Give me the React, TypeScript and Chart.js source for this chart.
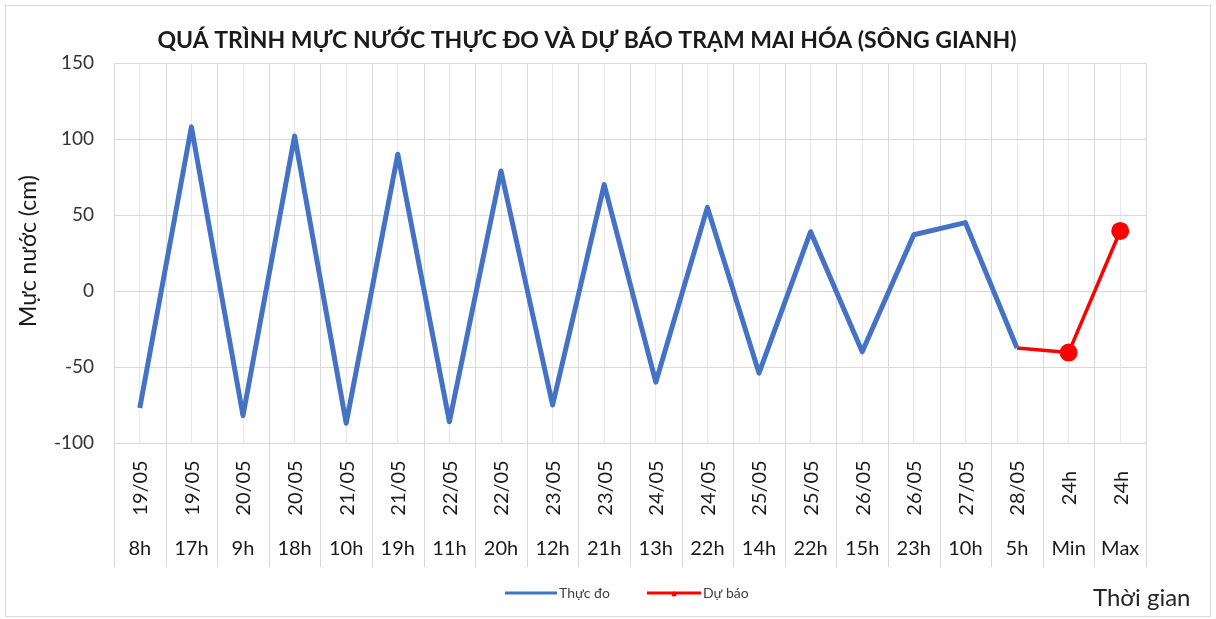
import React, { useEffect, useRef } from "react";
import { Chart, registerables } from "chart.js";

Chart.register(...registerables);

const dates = ["19/05","19/05","20/05","20/05","21/05","21/05","22/05","22/05","23/05","23/05","24/05","24/05","25/05","25/05","26/05","26/05","27/05","28/05","24h","24h"];
const hours = ["8h","17h","9h","18h","10h","19h","11h","20h","12h","21h","13h","22h","14h","22h","15h","23h","10h","5h","Min","Max"];
const observed = [-77,108,-82,102,-87,90,-86,79,-75,70,-60,55,-54,39,-40,37,45,-37.5,null,null];
const forecast = [null,null,null,null,null,null,null,null,null,null,null,null,null,null,null,null,null,-37.5,-40.5,39.5];
const yTicks = [150,100,50,0,-50,-100];

const TITLE = "QUÁ TRÌNH MỰC NƯỚC THỰC ĐO VÀ DỰ BÁO TRẠM MAI HÓA (SÔNG GIANH)";
const FONT = "Lato";

const decor = {
  id: "decor",
  beforeDatasetsDraw(chart: any) {
    const { ctx, chartArea } = chart;
    const xs = chart.scales.x;
    const n = dates.length;
    ctx.save();
    ctx.strokeStyle = "#d9d9d9";
    ctx.lineWidth = 1;
    for (let i = 0; i <= n; i++) {
      const x = Math.round(xs.getPixelForValue(i - 0.5)) + 0.5;
      ctx.beginPath();
      ctx.moveTo(x, chartArea.top);
      ctx.lineTo(x, 567);
      ctx.stroke();
    }
    ctx.restore();
  },
  afterDraw(chart: any) {
    const { ctx, chartArea } = chart;
    const xs = chart.scales.x;
    ctx.save();
    // outer border
    ctx.strokeStyle = "#d9d9d9";
    ctx.lineWidth = 1;
    ctx.strokeRect(5.5, 5.5, 1205, 611);
    // title
    ctx.fillStyle = "#1a1a1a";
    ctx.font = `bold 23px ${FONT}`;
    ctx.textAlign = "center";
    ctx.textBaseline = "middle";
    ctx.fillText(TITLE, 587, 41);
    // category labels
    ctx.fillStyle = "#1a1a1a";
    for (let i = 0; i < dates.length; i++) {
      const x = xs.getPixelForValue(i);
      ctx.save();
      ctx.translate(x + 1, 488);
      ctx.rotate(-Math.PI / 2);
      ctx.font = `20px ${FONT}`;
      ctx.textAlign = "center";
      ctx.textBaseline = "middle";
      ctx.fillText(dates[i], 0, 0);
      ctx.restore();
      ctx.font = `20px ${FONT}`;
      ctx.textAlign = "center";
      ctx.textBaseline = "middle";
      ctx.fillText(hours[i], x, 549);
    }
    // y axis title
    ctx.save();
    ctx.translate(29, 251);
    ctx.rotate(-Math.PI / 2);
    ctx.font = `23px ${FONT}`;
    ctx.textAlign = "center";
    ctx.textBaseline = "middle";
    ctx.fillStyle = "#1a1a1a";
    ctx.fillText("Mực nước (cm)", 0, 0);
    ctx.restore();
    // x axis title
    ctx.font = `24px ${FONT}`;
    ctx.textAlign = "left";
    ctx.textBaseline = "middle";
    ctx.fillStyle = "#262626";
    ctx.fillText("Thời gian", 1093, 598);
    // legend
    const ly = 593;
    ctx.lineWidth = 3;
    ctx.strokeStyle = "#4472C4";
    ctx.beginPath(); ctx.moveTo(505, ly); ctx.lineTo(557, ly); ctx.stroke();
    ctx.strokeStyle = "#FF0000";
    ctx.beginPath(); ctx.moveTo(647, ly); ctx.lineTo(701, ly); ctx.stroke();
    ctx.fillStyle = "#FF0000";
    ctx.beginPath(); ctx.arc(674, ly + 1, 2.5, 0, Math.PI * 2); ctx.fill();
    ctx.font = `14px ${FONT}`;
    ctx.fillStyle = "#404040";
    ctx.textAlign = "left";
    ctx.fillText("Thực đo", 559, ly);
    ctx.fillText("Dự báo", 703, ly);
    ctx.restore();
  },
};

export default function App() {
  const ref = useRef<HTMLCanvasElement>(null);
  useEffect(() => {
    if (!ref.current) return;
    const labels = hours.map((h, i) => dates[i] + " " + h);
    const chart = new Chart(ref.current, {
      type: "line",
      data: {
        labels,
        datasets: [
          {
            label: "Thực đo",
            data: observed,
            borderColor: "#4472C4",
            backgroundColor: "#4472C4",
            borderWidth: 5,
            pointRadius: 0,
            borderJoinStyle: "round",
            spanGaps: false,
          },
          {
            label: "Dự báo",
            data: forecast,
            borderColor: "#FF0000",
            backgroundColor: "#FF0000",
            borderWidth: 3.5,
            borderJoinStyle: "round",
            pointRadius: forecast.map((v, i) => (i >= forecast.length - 2 ? 9 : 0)),
            pointBorderWidth: 0,
            pointBackgroundColor: "#FF0000",
            spanGaps: false,
          },
        ],
      },
      options: {
        animation: false,
        responsive: false,
        devicePixelRatio: 1,
        layout: { padding: { left: 0, top: 63, right: 70, bottom: 176 } },
        plugins: { legend: { display: false }, title: { display: false }, tooltip: { enabled: false } },
        scales: {
          x: {
            type: "category",
            offset: true,
            grid: { offset: false, color: "#e8e8e8", drawTicks: false },
            border: { display: false },
            ticks: { display: false },
            afterFit: (s: any) => { s.height = 0; },
          },
          y: {
            min: -100,
            max: 150,
            afterBuildTicks: (s: any) => { s.ticks = yTicks.map((v) => ({ value: v })); },
            grid: { color: "#d9d9d9", drawTicks: false },
            border: { display: false },
            ticks: { font: { family: FONT, size: 19 }, color: "#333333", padding: 20 },
            afterFit: (s: any) => { s.width = 114; },
          },
        },
      },
      plugins: [decor],
    });
    return () => chart.destroy();
  }, []);
  return (
    <div style={{ position: "fixed", left: 0, top: 0, width: 1216, height: 619, background: "#fff" }}>
      <canvas ref={ref} width={1216} height={619} style={{ width: 1216, height: 619 }} />
    </div>
  );
}
